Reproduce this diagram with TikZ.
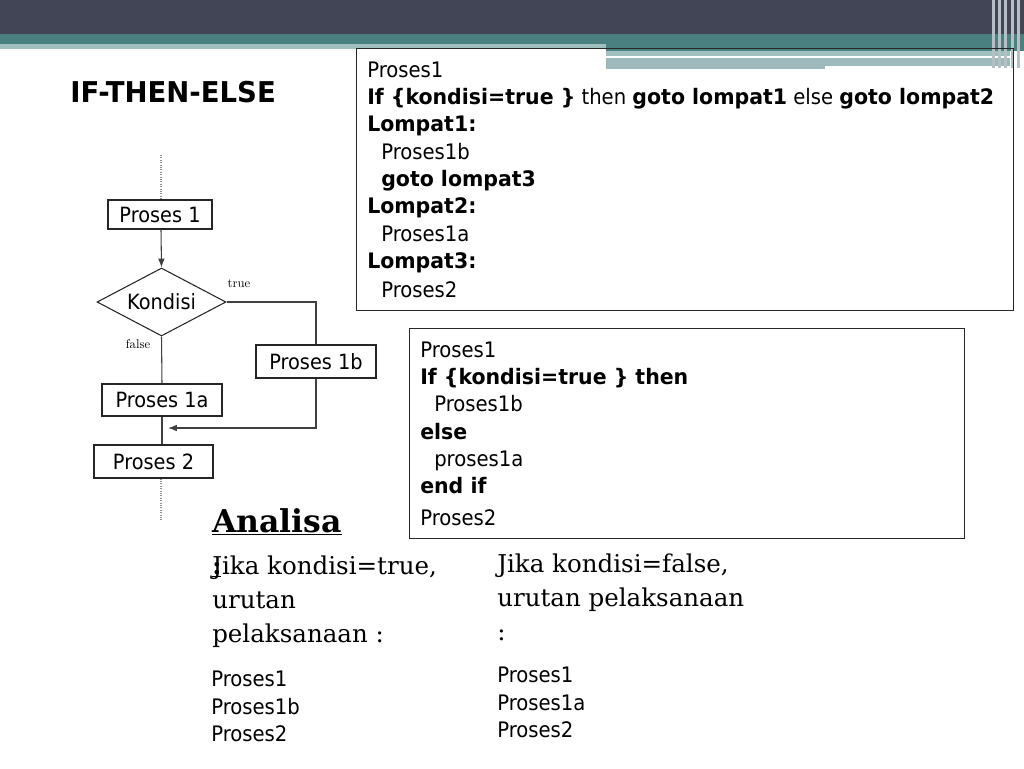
\documentclass[tikz,border=0pt]{standalone}
\usepackage{fontspec}
\usetikzlibrary{arrows.meta,shapes.geometric,positioning}
\newfontfamily\tah[FakeStretch=0.92, BoldFeatures={FakeStretch=0.96}]{DejaVu Sans}
\newfontfamily\geo{DejaVu Serif}
\definecolor{slate}{HTML}{424556}
\definecolor{tealbar}{HTML}{4A8080}
\definecolor{tealpale}{HTML}{A0C0C0}
\definecolor{tealgray}{HTML}{9DB9BB}
\definecolor{stripe}{HTML}{B5BFC4}

\begin{document}
\begin{tikzpicture}[x=0.75pt, y=-0.75pt,
    main/.style = {draw=black!85, line width=0.8pt, inner sep=0pt, font=\tah\fontsize{15.75}{18}\selectfont},
    code/.style = {anchor=north west, align=left, inner sep=0pt, font=\tah\fontsize{16}{20.5}\selectfont},
    prose/.style = {anchor=north west, align=left, inner sep=0pt, font=\geo\fontsize{18.4}{25.5}\selectfont},
    lbl/.style = {font=\fontsize{9.5}{11}\selectfont, inner sep=0pt},
    link/.style = {draw=black!75, line width=0.8pt}]

    \useasboundingbox (0,0) rectangle (1024,768);

    % top bar
    \fill[slate] (0,0) rectangle (1024,34);
    \fill[tealbar] (0,34) rectangle (1024,44);
    \fill[tealpale] (0,44) rectangle (606,49);
    \fill[tealbar] (606,44) rectangle (1024,51);
    \fill[tealpale] (606,51) rectangle (1010,56);
    \fill[white] (612,56) rectangle (948,58);
    \fill[tealgray] (606,58) rectangle (1010,66);
    \fill[tealgray] (606,66) rectangle (825,69);
    \foreach \x in {992,998,1004,1011,1017}
        \fill[stripe] (\x,0) rectangle ++(2.5,68);

    % title
    \node[anchor=west, inner sep=0pt, font=\tah\fontsize{21.5}{24}\selectfont\bfseries] (title) at (70,92) {IF-THEN-ELSE};

    % goto version
    \node[draw=black!85, line width=0.8pt, anchor=north west, minimum width=492.75pt, minimum height=196.5pt, inner sep=0pt] (gotobox) at (356,48) {};
    \node[code] (gototext) at (367,61.5) {Proses1\\
        \textbf{If \{kondisi=true \}} then \textbf{goto lompat1} else \textbf{goto lompat2}\\
        \textbf{Lompat1:}\\
        \hspace{10.5pt}Proses1b\\
        \hspace{10.5pt}\textbf{goto lompat3}\\
        \textbf{Lompat2:}\\
        \hspace{10.5pt}Proses1a\\
        \textbf{Lompat3:}\\[1.5pt]
        \hspace{10.5pt}Proses2};

    % if-then-else version
    \node[draw=black!85, line width=0.8pt, anchor=north west, minimum width=416.25pt, minimum height=157.5pt, inner sep=0pt] (ifbox) at (409,328) {};
    \node[code] (iftext) at (420,341.5) {Proses1\\
        \textbf{If \{kondisi=true \} then}\\
        \hspace{10.5pt}Proses1b\\
        \textbf{else}\\
        \hspace{10.5pt}proses1a\\
        \textbf{end if}\\[3.5pt]
        Proses2};

    % flowchart
    \node[main, minimum width=78pt, minimum height=21.75pt] (P1) at (160,214.5) {Proses 1};
    \node[main, diamond, aspect=1.9, minimum width=96.75pt, minimum height=51pt] (K) at (161.5,302) {Kondisi};
    \node[main, minimum width=90pt, minimum height=24.75pt] (P1b) at (316,361.5) {Proses 1b};
    \node[main, minimum width=90pt, minimum height=24pt] (P1a) at (162,400) {Proses 1a};
    \node[main, minimum width=89.25pt, minimum height=24.75pt] (P2) at (153.5,461.5) {Proses 2};
    \coordinate (start) at (161,155);
    \coordinate (stop) at (161,520);
    \coordinate (join) at (168,428);

    \draw[black!45, densely dotted, line width=0.8pt] (start) -- (P1.north -| start);
    \draw[black!45, densely dotted, line width=0.8pt] (P2.south -| stop) -- (stop);
    \draw[link, -Latex] (P1.south -| start) -- (K.north);
    \draw[link] (K.east) -| (P1b.north);
    \draw[link] (K.south) -- (P1a.north);
    \draw[link, -Latex] (P1b.south) |- (join);
    \draw[link] (P1a.south) -- (P1a.south |- P2.north);
    \node[lbl] (tlbl) at (239,284) {true};
    \node[lbl] (flbl) at (138,344) {false};

    % analisa
    \node[anchor=base west, inner sep=0pt, font=\geo\fontsize{23.6}{28}\selectfont\bfseries] (analisa) at (212,532) {\underline{Analisa}};
    \node[prose] (truetext) at (212,556) {Jika kondisi=true,\\urutan\\pelaksanaan :};
    \node[anchor=base west, inner sep=0pt, font=\geo\fontsize{18.4}{25.5}\selectfont\bfseries] (colon) at (212,574) {\underline{:}};
    \node[prose] (falsetext) at (497,554) {Jika kondisi=false,\\urutan pelaksanaan\\:};
    \node[code] (truelist) at (211,671) {Proses1\\Proses1b\\Proses2};
    \node[code] (falselist) at (497,667) {Proses1\\Proses1a\\Proses2};
\end{tikzpicture}
\end{document}
